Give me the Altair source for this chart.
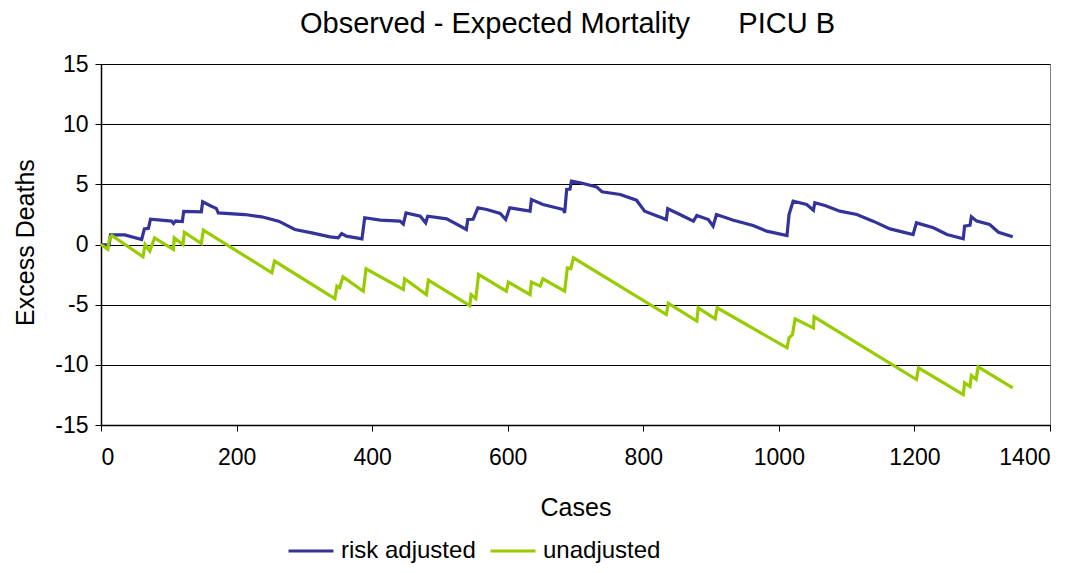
import altair as alt
import pandas as pd

# risk adjusted series (case, excess deaths)
ra_cases = [0, 12, 14, 35, 60, 64, 70, 73, 104, 107, 110, 120, 122, 148, 150, 162, 170, 173, 212, 237,
            262, 286, 311, 338, 350, 355, 362, 385, 389, 412, 441, 446, 450, 471, 479, 482, 510, 539,
            541, 549, 556, 569, 589, 597, 603, 633, 635, 652, 682, 684, 687, 692, 694, 707, 731, 739,
            766, 790, 802, 834, 836, 854, 874, 879, 896, 903, 908, 933, 962, 982, 1012, 1015, 1021,
            1041, 1051, 1053, 1068, 1090, 1115, 1139, 1164, 1198, 1203, 1228, 1248, 1272, 1274, 1282,
            1284, 1292, 1311, 1324, 1345]
ra_values = [0.0, -0.05, 0.8, 0.8, 0.42, 1.3, 1.35, 2.1, 1.95, 1.75, 1.95, 1.9, 2.75, 2.72, 3.55, 3.2,
             3.0, 2.63, 2.49, 2.3, 1.94, 1.25, 0.97, 0.64, 0.55, 0.91, 0.69, 0.47, 2.22, 2.02, 1.94,
             1.7, 2.63, 2.35, 1.8, 2.35, 2.13, 1.25, 2.08, 2.1, 3.05, 2.91, 2.58, 2.08, 3.05, 2.77,
             3.74, 3.33, 2.91, 2.63, 4.57, 4.6, 5.26, 5.13, 4.79, 4.38, 4.16, 3.68, 2.77, 2.08, 2.97,
             2.49, 1.94, 2.41, 2.08, 1.52, 2.49, 2.02, 1.58, 1.11, 0.75, 2.49, 3.6, 3.33, 2.85, 3.47,
             3.24, 2.77, 2.49, 1.94, 1.30, 0.83, 1.80, 1.39, 0.83, 0.47, 1.52, 1.6, 2.30, 1.94, 1.66,
             1.02, 0.64]

# unadjusted series (case, excess deaths)
un_cases = [0, 10, 13, 16, 62, 65, 72, 79, 107, 108, 121, 123, 148, 151, 252, 256, 345, 348, 352, 357,
            387, 391, 446, 448, 480, 483, 544, 546, 553, 557, 598, 601, 633, 635, 648, 652, 684, 688,
            693, 697, 834, 837, 879, 881, 906, 909, 1012, 1015, 1020, 1024, 1051, 1052, 1203, 1206,
            1272, 1274, 1282, 1284, 1291, 1294, 1345]
un_values = [0.0, -0.4, 0.6, 0.75, -1.02, 0.0, -0.55, 0.55, -0.42, 0.55, 0.0, 1.02, 0.08, 1.19, -2.35,
             -1.38, -4.5, -3.46, -3.6, -2.69, -3.88, -2.02, -3.74, -2.85, -4.16, -2.97, -5.07, -4.16,
             -4.5, -2.49, -3.88, -3.13, -4.16, -3.13, -3.46, -2.85, -3.88, -1.94, -2.0, -1.11, -5.82,
             -4.9, -6.37, -5.26, -6.18, -5.26, -8.59, -7.76, -7.5, -6.18, -6.93, -6.01, -11.22, -10.25,
             -12.47, -11.5, -11.8, -10.89, -11.2, -10.17, -11.91]

series_names = ["risk adjusted", "unadjusted"]
series_colors = ["#333399", "#99CC00"]
x_ticks = [0, 200, 400, 600, 800, 1000, 1200, 1400]
y_ticks = [-15, -10, -5, 0, 5, 10, 15]

rows = []
for i, (c, v) in enumerate(zip(ra_cases, ra_values)):
    rows.append({"Cases": c, "Excess": v, "series": series_names[0], "idx": i})
for i, (c, v) in enumerate(zip(un_cases, un_values)):
    rows.append({"Cases": c, "Excess": v, "series": series_names[1], "idx": i})
df = pd.DataFrame(rows)

FONT = "Liberation Sans"
TITLE = "Observed - Expected Mortality" + "\u00a0" * 6 + "PICU B"

chart = alt.Chart(df).mark_line(strokeWidth=3.2, interpolate="linear").encode(
    x=alt.X("Cases:Q",
            scale=alt.Scale(domain=[0, 1400], nice=False),
            axis=alt.Axis(values=x_ticks, title="Cases", grid=False,
                          labelExpr="toString(datum.value)",
                          labelPadding=15, tickSize=6, titleY=82, titleBaseline="middle")),
    y=alt.Y("Excess:Q",
            scale=alt.Scale(domain=[-15, 15], nice=False),
            axis=alt.Axis(values=y_ticks, title="Excess Deaths", grid=True,
                          labelExpr="toString(datum.value)",
                          labelPadding=7, tickSize=6, titleX=-76, titleY=178,
                          titleBaseline="middle", titleAlign="center", titleAngle=-90)),
    color=alt.Color("series:N",
                    scale=alt.Scale(domain=series_names, range=series_colors),
                    legend=alt.Legend(title=None, orient="none", direction="horizontal",
                                      legendX=186, legendY=463, symbolType="stroke",
                                      symbolSize=2025, symbolStrokeWidth=3,
                                      labelFontSize=24, labelFont=FONT, columnPadding=8,
                                      labelOffset=6, labelColor="black")),
    order="idx:Q",
).properties(
    width=949,
    height=361,
    background="white",
    title=alt.TitleParams(TITLE, fontSize=29, font=FONT, fontWeight="normal", color="black",
                          anchor="middle", offset=14, dx=-8),
    autosize=alt.AutoSizeParams(type="none"),
    padding={"left": 93, "top": 56, "right": 25, "bottom": 140},
).configure_view(
    stroke="#808080", strokeWidth=1
).configure_axis(
    labelFont=FONT, titleFont=FONT, labelFontSize=23, titleFontSize=25,
    labelColor="black", titleColor="black", titleFontWeight="normal",
    domainColor="black", tickColor="black", gridColor="black", gridOpacity=1,
    gridWidth=1, domainWidth=1.5, tickWidth=1
)

chart.save("out.html", embed_options={"renderer": "svg", "actions": False})
